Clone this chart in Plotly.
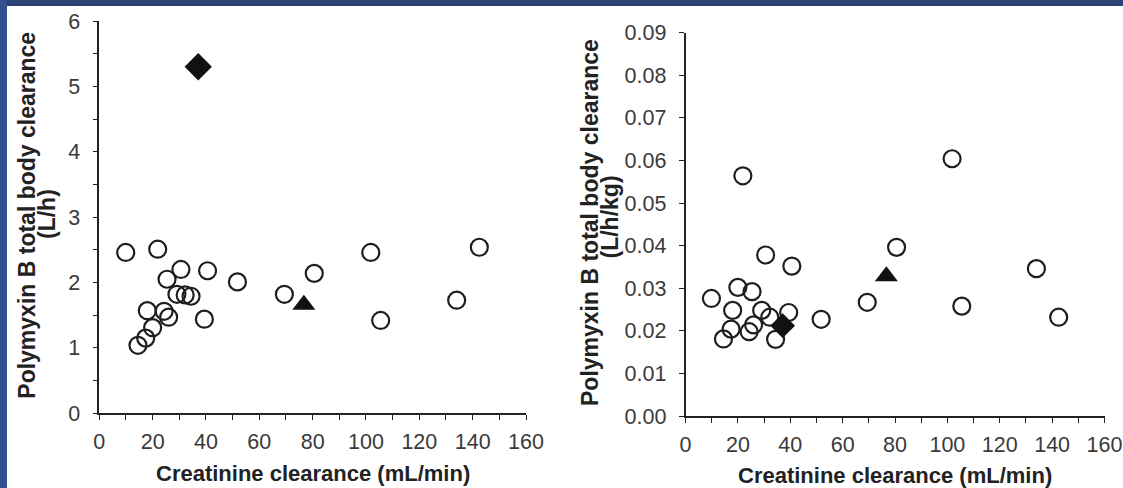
import plotly.graph_objects as go

W, H = 1123, 488

# ---- data ----
crcl = [9.9, 14.5, 17.4, 18.0, 20.0, 21.9, 24.3, 25.4, 26.0, 29.1, 30.6,
        32.2, 34.4, 39.4, 40.6, 51.8, 69.4, 80.6, 101.8, 105.5, 134.0, 142.5]
cl_lh = [2.46, 1.04, 1.15, 1.57, 1.31, 2.51, 1.56, 2.05, 1.47, 1.82, 2.20,
         1.81, 1.79, 1.44, 2.18, 2.01, 1.82, 2.14, 2.46, 1.42, 1.73, 2.54]
cl_lhkg = [0.0276, 0.0181, 0.0204, 0.0248, 0.0302, 0.0564, 0.0198, 0.0292,
           0.0214, 0.0248, 0.0378, 0.0232, 0.0180, 0.0243, 0.0352, 0.0227,
           0.0267, 0.0396, 0.0604, 0.0258, 0.0346, 0.0232]
diamond_crcl = [37.1]
diamond_lh = [5.30]
diamond_lhkg = [0.0212]
triangle_crcl = [76.7]
triangle_lh = [1.66]
triangle_lhkg = [0.0328]

x_ticks = [0, 20, 40, 60, 80, 100, 120, 140, 160]
y1_ticks = [0, 1, 2, 3, 4, 5, 6]
y2_ticks = [0.00, 0.01, 0.02, 0.03, 0.04, 0.05, 0.06, 0.07, 0.08, 0.09]

x_title = "Creatinine clearance (mL/min)"
y_title_line1 = "Polymyxin B total body clearance"
y1_title_line2 = "(L/h)"
y2_title_line2 = "(L/h/kg)"

FONT = "Liberation Sans, Arial, Helvetica, sans-serif"
INK = "#222222"
TICKC = "#3a3a3a"


def px_x(p):
    return p / W


def px_y(p):
    return 1 - p / H


fig = go.Figure()

circle_marker = dict(symbol="circle-open", size=17, color="#1e1e1e",
                     line=dict(width=2.2, color="#1e1e1e"))
diamond_marker = dict(symbol="diamond", size=21, color="#111111",
                      line=dict(width=0))
triangle_marker = dict(symbol="triangle-up", size=20, color="#111111",
                       line=dict(width=0))

# left panel
fig.add_trace(go.Scatter(x=crcl, y=cl_lh, mode="markers", marker=circle_marker,
                         xaxis="x", yaxis="y", showlegend=False))
fig.add_trace(go.Scatter(x=diamond_crcl, y=diamond_lh, mode="markers",
                         marker=diamond_marker, xaxis="x", yaxis="y",
                         showlegend=False))
fig.add_trace(go.Scatter(x=triangle_crcl, y=triangle_lh, mode="markers",
                         marker=triangle_marker, xaxis="x", yaxis="y",
                         showlegend=False))
# right panel
fig.add_trace(go.Scatter(x=crcl, y=cl_lhkg, mode="markers", marker=circle_marker,
                         xaxis="x2", yaxis="y2", showlegend=False))
fig.add_trace(go.Scatter(x=diamond_crcl, y=diamond_lhkg, mode="markers",
                         marker=dict(diamond_marker, size=19), xaxis="x2", yaxis="y2",
                         showlegend=False))
fig.add_trace(go.Scatter(x=triangle_crcl, y=triangle_lhkg, mode="markers",
                         marker=triangle_marker, xaxis="x2", yaxis="y2",
                         showlegend=False))

tickfont = dict(family=FONT, size=21.5, color=TICKC)
common = dict(showline=True, linecolor=INK, linewidth=1.6, ticks="outside",
              ticklen=5, tickwidth=1.4, tickcolor=INK, showgrid=False,
              zeroline=False, tickfont=tickfont, fixedrange=True,
              automargin=False)

L_x0, L_x1, L_yt, L_yb = 99.3, 526.0, 21.0, 413.3
R_x0, R_x1, R_yt, R_yb = 685.5, 1104.5, 32.7, 416.0

fig.update_layout(
    width=W, height=H,
    margin=dict(l=0, r=0, t=0, b=0, pad=0, autoexpand=False),
    paper_bgcolor="white", plot_bgcolor="white",
    xaxis=dict(common, domain=[px_x(L_x0), px_x(L_x1)], range=[0, 160],
               tickvals=x_ticks, anchor="y", ticklabelstandoff=3,
               minor=dict(dtick=10, tick0=0, ticks="outside", ticklen=5,
                          tickwidth=1.4, tickcolor=INK)),
    yaxis=dict(common, domain=[px_y(L_yb), px_y(L_yt)], range=[0, 6],
               tickvals=y1_ticks, anchor="x", ticklabelstandoff=8,
               minor=dict(dtick=0.5, tick0=0, ticks="outside", ticklen=5,
                          tickwidth=1.4, tickcolor=INK)),
    xaxis2=dict(common, domain=[px_x(R_x0), px_x(R_x1)], range=[0, 160],
                tickvals=x_ticks, anchor="y2", ticklabelstandoff=3,
                minor=dict(dtick=10, tick0=0, ticks="outside", ticklen=5,
                           tickwidth=1.4, tickcolor=INK)),
    yaxis2=dict(common, domain=[px_y(R_yb), px_y(R_yt)], range=[0, 0.09],
                tickvals=y2_ticks, tickformat=".2f", anchor="x2",
                ticklabelstandoff=8),
)

title_font = dict(family=FONT, size=22, color=INK)
ann = []
# x titles
ann.append(dict(text="<b>%s</b>" % x_title, x=px_x((L_x0 + L_x1) / 2), y=px_y(473),
                xref="paper", yref="paper", showarrow=False, xanchor="center",
                yanchor="middle", font=title_font))
ann.append(dict(text="<b>%s</b>" % x_title, x=px_x((R_x0 + R_x1) / 2), y=px_y(475),
                xref="paper", yref="paper", showarrow=False, xanchor="center",
                yanchor="middle", font=title_font))
# y titles (two lines each)
for xc, yc, txt in [(26.7, 215, y_title_line1), (47.0, 214, y1_title_line2),
                    (590, 223, y_title_line1), (609.5, 217, y2_title_line2)]:
    ann.append(dict(text="<b>%s</b>" % txt, x=px_x(xc), y=px_y(yc), xref="paper",
                    yref="paper", showarrow=False, xanchor="center",
                    yanchor="middle", textangle=-90,
                    font=dict(family=FONT, size=23, color=INK)))
fig.update_layout(annotations=ann)

# blue frame (top and left strips)
fig.update_layout(shapes=[
    dict(type="rect", xref="paper", yref="paper", x0=0, x1=1, y0=px_y(6), y1=1,
         fillcolor="#2c4275", line=dict(width=0), layer="above"),
    dict(type="rect", xref="paper", yref="paper", x0=0, x1=px_x(7), y0=0, y1=1,
         fillcolor="#32508c", line=dict(width=0), layer="above"),
])

fig.write_html("out.html")
